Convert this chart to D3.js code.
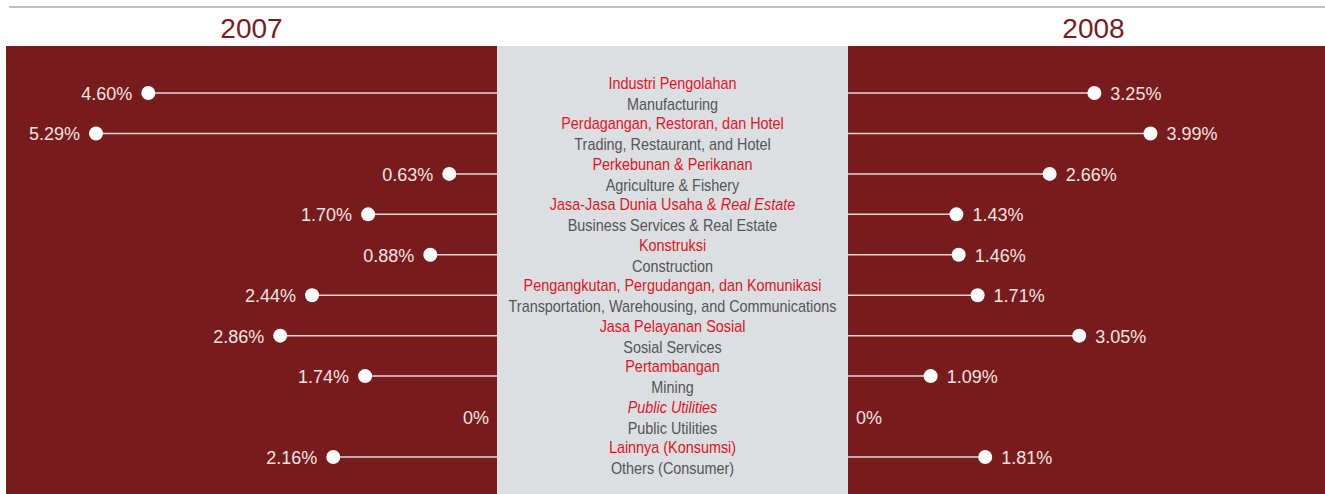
<!DOCTYPE html>
<html>
<head>
<meta charset="utf-8">
<script src="https://cdn.jsdelivr.net/npm/d3@7"></script>
<style>
  body { margin: 0; background: #fff; }
  svg { display: block; font-family: "Liberation Sans", Arial, sans-serif; }
  .val { fill: #f3e3e3; font-size: 18px; }
  .title { fill: #7a1c1c; font-size: 28px; }
  .lblId { fill: #e3141f; font-size: 16px; }
  .lblEn { fill: #555; font-size: 16px; }
</style>
</head>
<body>
<div id="vis"></div>
<script>
// sector names, *...* marks italic parts
var sectorsId = [
  "Industri Pengolahan",
  "Perdagangan, Restoran, dan Hotel",
  "Perkebunan & Perikanan",
  "Jasa-Jasa Dunia Usaha & *Real Estate*",
  "Konstruksi",
  "Pengangkutan, Pergudangan, dan Komunikasi",
  "Jasa Pelayanan Sosial",
  "Pertambangan",
  "*Public Utilities*",
  "Lainnya (Konsumsi)"
];
var sectorsEn = [
  "Manufacturing",
  "Trading, Restaurant, and Hotel",
  "Agriculture & Fishery",
  "Business Services & Real Estate",
  "Construction",
  "Transportation, Warehousing, and Communications",
  "Sosial Services",
  "Mining",
  "Public Utilities",
  "Others (Consumer)"
];
var values2007 = [4.60, 5.29, 0.63, 1.70, 0.88, 2.44, 2.86, 1.74, 0, 2.16];
var values2008 = [3.25, 3.99, 2.66, 1.43, 1.46, 1.71, 3.05, 1.09, 0, 1.81];
var years = ["2007", "2008"];

var W = 1325, H = 494;
var svg = d3.select("#vis").append("svg").attr("width", W).attr("height", H);

// panels
var leftX0 = 6, midX0 = 497, midX1 = 848, panelTop = 46;
var panelW = midX0 - leftX0;

svg.append("line")
  .attr("x1", 9).attr("x2", W).attr("y1", 7).attr("y2", 7)
  .attr("stroke", "#aaa").attr("stroke-width", 1.5);

svg.append("rect").attr("x", leftX0).attr("y", panelTop).attr("width", panelW).attr("height", H - panelTop).attr("fill", "#781b1c");
svg.append("rect").attr("x", midX0).attr("y", panelTop).attr("width", midX1 - midX0).attr("height", H - panelTop).attr("fill", "#dcdfe1");
svg.append("rect").attr("x", midX1).attr("y", panelTop).attr("width", panelW).attr("height", H - panelTop).attr("fill", "#781b1c");

svg.selectAll("text.title").data(years).enter().append("text")
  .attr("class", "title")
  .attr("text-anchor", "middle")
  .attr("x", function(d, i) { return i == 0 ? leftX0 + panelW / 2 : midX1 + panelW / 2; })
  .attr("y", 38)
  .text(function(d) { return d; });

// scales
var y = d3.scalePoint().domain(d3.range(sectorsId.length)).range([93, 457]);
var xL = d3.scaleLinear().domain([0, 5.29]).range([midX0, 96]);
var xR = d3.scaleLinear().domain([0, 5.29]).range([midX1, midX1 + (midX0 - 96)]);

function drawSide(vals, x, edge, side) {
  var g = svg.append("g");
  var rows = g.selectAll("g").data(vals).enter().append("g")
    .attr("transform", function(d, i) { return "translate(0," + y(i) + ")"; });
  rows.filter(function(d) { return d > 0; }).append("line")
    .attr("x1", function(d) { return x(d); })
    .attr("x2", edge)
    .attr("stroke", "#ecd6d6").attr("stroke-width", 1.5);
  rows.filter(function(d) { return d > 0; }).append("circle")
    .attr("cx", function(d) { return x(d); })
    .attr("r", 7).attr("fill", "#fff");
  rows.append("text")
    .attr("class", "val")
    .attr("x", function(d) { return d > 0 ? x(d) + side * 16 : edge + side * 8; })
    .attr("y", 7)
    .attr("text-anchor", side < 0 ? "end" : "start")
    .text(function(d) { return d > 0 ? d.toFixed(2) + "%" : "0%"; });
}
drawSide(values2007, xL, midX0, -1);
drawSide(values2008, xR, midX1, 1);

// center labels, squeezed horizontally to look like the condensed face
var cx = (midX0 + midX1) / 2;
var gap = 5;
sectorsId.forEach(function(s, i) {
  var g = svg.append("g")
    .attr("transform", "translate(" + cx + "," + y(i) + ") scale(0.9,1)");
  // each roman / italic piece is its own text, laid side by side
  var pieces = [];
  s.split("*").forEach(function(part, j) {
    part = part.trim();
    if (part === "") return;
    var t = g.append("text").attr("class", "lblId")
      .attr("y", -4)
      .attr("font-style", j % 2 ? "italic" : null)
      .text(part);
    pieces.push({ t: t, w: t.node().getComputedTextLength() });
  });
  var total = d3.sum(pieces, function(p) { return p.w; }) + gap * (pieces.length - 1);
  var px = -total / 2;
  pieces.forEach(function(p) {
    p.t.attr("x", px);
    px += p.w + gap;
  });
  g.append("text").attr("class", "lblEn").attr("text-anchor", "middle")
    .attr("y", 17).text(sectorsEn[i]);
});
</script>
</body>
</html>
